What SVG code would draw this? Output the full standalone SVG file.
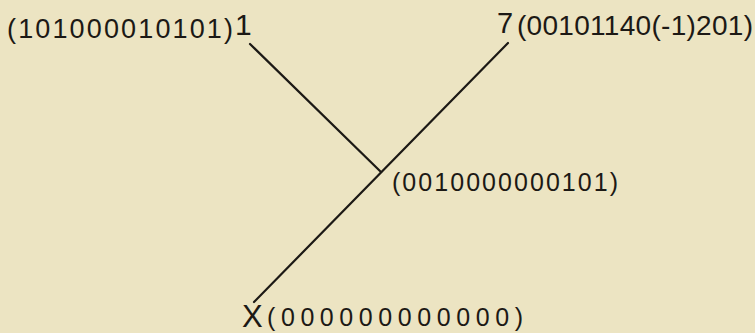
<svg xmlns="http://www.w3.org/2000/svg" width="755" height="333" viewBox="0 0 755 333">
<style>
.lbl{font-family:"Liberation Sans","DejaVu Sans",sans-serif;fill:#1c1915}
.name{font-family:"Liberation Sans","DejaVu Sans",sans-serif;fill:#1c1915}
.edge{stroke:#1c1915;stroke-width:2.2;fill:none;stroke-linecap:round}
</style>
<rect width="755" height="333" fill="#ece4c2"/>
<g id="connectors">
<line class="edge" x1="250" y1="44" x2="381" y2="172"/>
<line class="edge" x1="508" y1="43" x2="254" y2="302"/>
</g>
<g id="node-1">
<text class="lbl" x="7" y="38" font-size="27" textLength="226" lengthAdjust="spacing">(101000010101)</text>
<text class="name" x="235" y="35" font-size="30">1</text>
</g>
<g id="node-7">
<text class="name" x="497" y="33" font-size="29">7</text>
<text class="lbl" x="517" y="35" font-size="28" textLength="236" lengthAdjust="spacing">(00101140(-1)201)</text>
</g>
<g id="node-mid">
<text class="lbl" x="392" y="191" font-size="25" textLength="226" lengthAdjust="spacing">(0010000000101)</text>
</g>
<g id="node-X">
<text class="name" x="242" y="327" font-size="31">X</text>
<text class="lbl" x="267" y="326" font-size="25" textLength="256" lengthAdjust="spacing">(000000000000)</text>
</g>
</svg>
